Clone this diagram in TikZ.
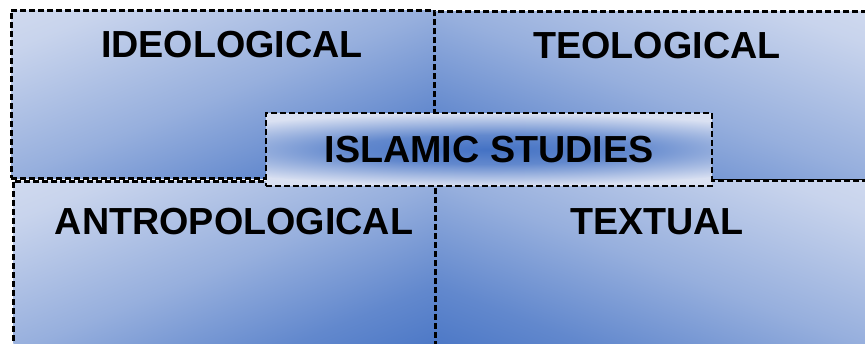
\documentclass[tikz,border=0pt]{standalone}
\usepackage{fontspec}
\setmainfont{Liberation Sans}
\usepackage{tikz}
\usetikzlibrary{positioning}

\definecolor{qlight}{HTML}{DAE1F2}
\definecolor{qblue}{HTML}{4472C4}

% corner-to-corner fill of the four fields
\pgfdeclareverticalshading{fieldshade}{100bp}{%
  color(0bp)=(qblue); color(14bp)=(qblue); color(30bp)=(qblue!80!qlight);
  color(50bp)=(qblue!45!qlight); color(75bp)=(qblue!12!qlight); color(92bp)=(qlight); color(100bp)=(qlight)}
% blue band fading out to the pale fill
\pgfdeclareradialshading{bandshade}{\pgfpoint{0bp}{0bp}}{%
  color(0bp)=(qblue); color(10bp)=(qblue!80!qlight); color(25bp)=(qlight); color(50bp)=(qlight)}

\begin{document}
\begin{tikzpicture}[
  x=1pt, y=1pt,
  quad/.style={draw, dashed, dash pattern=on 6pt off 3pt, line width=2.6pt, anchor=north west, inner sep=0pt, minimum width=423pt},
  leftquad/.style={quad, shading=fieldshade, shading angle=#1},
  rightquad/.style={quad, shading=fieldshade, shading angle=-#1},
  title/.style={inner sep=0pt, font=\bfseries\fontsize{37.7}{40}\selectfont}
]
\clip (0,0) rectangle (865,344);

% four fields
\node[leftquad=21.7, minimum height=168pt] (ideo) at (10,335) {};
\node[rightquad=20.7, minimum width=447pt, minimum height=169pt] (teo) at (433,334) {};
\node[leftquad=21.9, minimum height=170pt] (antro) at (12,164) {};
\node[rightquad=21, minimum width=446pt, minimum height=171pt] (text) at (434,165) {};

\node[title] (ideolabel) at (232,299) {IDEOLOGICAL};
\node[title] (teolabel) at (657,298) {TEOLOGICAL};
\node[title] (antrolabel) at (234,122) {ANTROPOLOGICAL};
\node[title] (textlabel) at (657,122) {TEXTUAL};

% centre box
\node[quad, title, anchor=center, minimum width=446pt, minimum height=73pt, fill=qlight,
  path picture={\shade[shading=bandshade] (path picture bounding box.center) ellipse [x radius=350pt, y radius=36pt];}]
  (islam) at (489,194.5) {ISLAMIC STUDIES};
\end{tikzpicture}
\end{document}
